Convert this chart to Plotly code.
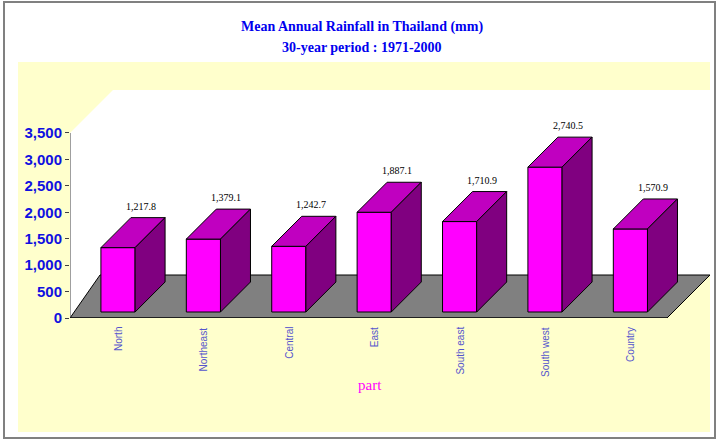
import plotly.graph_objects as go

# Data
regions = ["North", "Northeast", "Central", "East", "South east", "South west", "Country"]
rainfall = [1217.8, 1379.1, 1242.7, 1887.1, 1710.9, 2740.5, 1570.9]

# pixel -> axis helpers (for the decorative box only)
PX0, PXU = 118, 85.4        # x pixel of category 0, px per category
PY0, PYU = 318, 0.05286     # y pixel of 0, px per mm
def xd(px): return (px - PX0) / PXU
def yd(py): return (PY0 - py) / PYU
def xp(px): return (px - 70) / 640
def yp(py): return (318 - py) / 256

half = 0.2          # half width of front face (category units)
dx = 30 / PXU       # depth offset in x
dy = 30 / PYU       # depth offset in y
base = 6 / PYU      # bars sit slightly above the axis zero

fig = go.Figure()

def poly(xs, ys, color):
    fig.add_trace(go.Scatter(x=xs + [xs[0]], y=ys + [ys[0]], mode="lines", fill="toself",
                             fillcolor=color, line=dict(color="black", width=1),
                             hoverinfo="skip", showlegend=False))

for i, v in enumerate(rainfall):
    l, r, b, t = i - half, i + half, base, base + v
    poly([l, r, r, l], [b, b, t, t], "#FF00FF")
    poly([l, r, r + dx, l + dx], [t, t, t + dy, t + dy], "#C000C0")
    poly([r, r + dx, r + dx, r], [b, b + dy, t + dy, t], "#800080")

annotations = [
    dict(x=i + dx * 0.75, y=base + v + dy, yshift=4, text=f"{v:,.1f}", showarrow=False,
         yanchor="bottom", font=dict(family="Liberation Serif", size=10, color="black"))
    for i, v in enumerate(rainfall)
]
annotations += [
    dict(x=i, xref="x", y=yp(325), yref="paper", text=name, textangle=-90, showarrow=False,
         xanchor="center", yanchor="top",
         font=dict(family="Liberation Sans", size=10, color="#5555CC"))
    for i, name in enumerate(regions)
]
annotations += [
    dict(x=xp(362), y=yp(27), xref="paper", yref="paper", showarrow=False, yanchor="middle",
         text="<b>Mean Annual Rainfall in Thailand (mm)</b>",
         font=dict(family="Liberation Serif", size=14, color="#0000EE")),
    dict(x=xp(362), y=yp(47), xref="paper", yref="paper", showarrow=False, yanchor="middle",
         text="<b>30-year period : 1971-2000</b>",
         font=dict(family="Liberation Serif", size=14, color="#0000EE")),
    dict(x=xp(370), y=yp(385), xref="paper", yref="paper", showarrow=False, yanchor="middle",
         text="part", font=dict(family="Liberation Serif", size=15, color="#FF00FF")),
]

def P(pts):
    return "M " + " L ".join(f"{xd(a)},{yd(b)}" for a, b in pts) + " Z"

shapes = [
    dict(type="rect", xref="paper", yref="paper", layer="below",
         x0=xp(18), x1=xp(710), y0=yp(432), y1=yp(62),
         fillcolor="#FFFFCC", line=dict(width=0)),
    dict(type="rect", xref="paper", yref="paper", layer="below",
         x0=xp(4), x1=xp(715), y0=yp(438), y1=yp(2),
         fillcolor="rgba(0,0,0,0)", line=dict(color="#808080", width=2)),
    dict(type="path", layer="below", path=P([(70, 318), (70, 133), (113, 90), (710, 90), (710, 275), (667, 318)]),
         fillcolor="white", line=dict(width=0)),
    dict(type="path", layer="below", path=P([(70, 318), (100, 275), (710, 275), (667, 318)]),
         fillcolor="#808080", line=dict(color="black", width=1)),
    dict(type="line", layer="below", x0=xd(70), x1=xd(70), y0=0, y1=3500,
         line=dict(color="#404040", width=1)),
    dict(type="line", layer="below", x0=xd(70), x1=xd(667), y0=0, y1=0,
         line=dict(color="black", width=1)),
]
shapes += [
    dict(type="line", x0=i + 0.5, x1=i + 0.5, y0=0, y1=yd(322), line=dict(color="black", width=1))
    for i in range(len(regions))
]

fig.update_layout(
    width=720, height=442,
    margin=dict(l=70, r=10, t=62, b=124),
    paper_bgcolor="white", plot_bgcolor="rgba(0,0,0,0)",
    showlegend=False,
    xaxis=dict(range=[xd(70), xd(710)], showgrid=False, zeroline=False, showticklabels=False,
               fixedrange=True),
    yaxis=dict(range=[0, yd(62)], showgrid=False, zeroline=False, tickvals=list(range(0, 3501, 500)),
               tickformat=",", ticks="outside", ticklen=4, tickcolor="#404040",
               tickfont=dict(family="Liberation Sans", size=15, color="#1010E0", weight="bold"),
               fixedrange=True),
    shapes=shapes, annotations=annotations,
)

fig.write_html("out.html", config={"displayModeBar": False},
               post_script="document.body.style.margin='0';")
